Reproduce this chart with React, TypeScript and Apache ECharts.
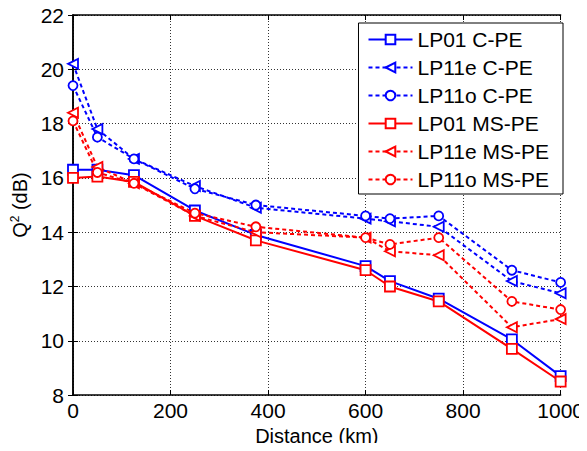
import React, { useEffect, useRef } from "react";
import * as echarts from "echarts";

const distances = [0, 50, 125, 250, 375, 600, 650, 750, 900, 1000];
const lp01C = [16.3, 16.3, 16.1, 14.8, 13.9, 12.75, 12.2, 11.55, 10.05, 8.7];
const lp11eC = [20.2, 17.8, 16.7, 15.7, 14.9, 14.5, 14.4, 14.2, 12.2, 11.75];
const lp11oC = [19.4, 17.5, 16.7, 15.6, 15.0, 14.6, 14.5, 14.6, 12.6, 12.15];
const lp01MS = [16.0, 16.05, 15.85, 14.6, 13.7, 12.6, 12.0, 11.45, 9.7, 8.5];
const lp11eMS = [18.4, 16.4, 15.8, 14.6, 14.0, 13.8, 13.3, 13.15, 10.5, 10.8];
const lp11oMS = [18.1, 16.2, 15.8, 14.7, 14.2, 13.8, 13.55, 13.8, 11.45, 11.15];

const seriesNames = [
  "LP01 C-PE",
  "LP11e C-PE",
  "LP11o C-PE",
  "LP01 MS-PE",
  "LP11e MS-PE",
  "LP11o MS-PE",
];
const seriesValues = [lp01C, lp11eC, lp11oC, lp01MS, lp11eMS, lp11oMS];
const seriesColors = ["#0000ff", "#0000ff", "#0000ff", "#ff0000", "#ff0000", "#ff0000"];
const seriesSymbols = ["rect", "triangle", "circle", "rect", "triangle", "circle"];
const seriesDashed = [false, true, true, false, true, true];

const FONT = "'Liberation Sans', Arial, sans-serif";
const FS = 21;

export default function App() {
  const ref = useRef<HTMLDivElement>(null);
  useEffect(() => {
    if (!ref.current) return;
    const chart = echarts.init(ref.current, undefined, { renderer: "svg" });
    const axisLine = { show: true, lineStyle: { color: "#000", width: 1.5 } };
    const tickIn = { show: true, inside: true, length: 5, lineStyle: { color: "#000", width: 1 } };
    const split = { show: true, lineStyle: { color: "#333", type: [1, 2] as any, width: 1 } };
    const series = seriesNames.map((name, i) => ({
      name,
      type: "line",
      data: distances.map((d, j) => [d, seriesValues[i][j]]),
      symbol: seriesSymbols[i],
      symbolSize: seriesSymbols[i] === "circle" ? 9 : 10,
      symbolRotate: seriesSymbols[i] === "triangle" ? 90 : 0,
      showAllSymbol: true,
      color: seriesColors[i],
      lineStyle: {
        color: seriesColors[i],
        width: 2,
        type: seriesDashed[i] ? ([4, 3] as any) : "solid",
      },
      itemStyle: { color: "#fff", borderColor: seriesColors[i], borderWidth: 1.8 },
      xAxisIndex: 0,
      yAxisIndex: 0,
      z: 3,
    }));
    chart.setOption({
      animation: false,
      backgroundColor: "#fff",
      textStyle: { fontFamily: FONT },
      grid: { left: 73, right: 25, top: 15, bottom: 54, containLabel: false },
      legend: {
        orient: "vertical",
        right: 24,
        top: 23,
        data: seriesNames,
        itemWidth: 44,
        itemHeight: 12,
        itemGap: 7,
        padding: [6, 14, 4, 9],
        backgroundColor: "#fff",
        borderColor: "#000",
        borderWidth: 1,
        borderRadius: 0,
        textStyle: { fontFamily: FONT, fontSize: FS, color: "#000", lineHeight: 21 },
      },
      xAxis: [
        {
          type: "value",
          min: 0,
          max: 1000,
          interval: 200,
          name: "Distance (km)",
          nameLocation: "middle",
          nameGap: 29,
          nameTextStyle: { fontFamily: FONT, fontSize: 20, color: "#000" },
          axisLine,
          axisTick: tickIn,
          splitLine: split,
          axisLabel: {
            color: "#000",
            fontSize: FS,
            fontFamily: FONT,
            margin: 5,
            formatter: (v: number) => String(v),
          },
        },
        {
          type: "value",
          position: "top",
          min: 0,
          max: 1000,
          interval: 200,
          axisLine,
          axisTick: tickIn,
          splitLine: { show: false },
          axisLabel: { show: false },
        },
      ],
      yAxis: [
        {
          type: "value",
          min: 8,
          max: 22,
          interval: 2,
          name: "Q{sup|2} (dB)",
          nameLocation: "middle",
          nameGap: 36,
          nameRotate: 90,
          nameTextStyle: {
            fontFamily: FONT,
            fontSize: 20,
            color: "#000",
            rich: {
              sup: { fontSize: 12, verticalAlign: "top", padding: [0, 0, 10, 0], fontFamily: FONT, color: "#000" },
            },
          },
          axisLine,
          axisTick: tickIn,
          splitLine: split,
          axisLabel: { color: "#000", fontSize: FS, fontFamily: FONT, margin: 9 },
        },
        {
          type: "value",
          position: "right",
          min: 8,
          max: 22,
          interval: 2,
          axisLine,
          axisTick: tickIn,
          splitLine: { show: false },
          axisLabel: { show: false },
        },
      ],
      series,
    });
    return () => chart.dispose();
  }, []);
  return <div ref={ref} style={{ width: 587, height: 451, margin: -8 }} />;
}
